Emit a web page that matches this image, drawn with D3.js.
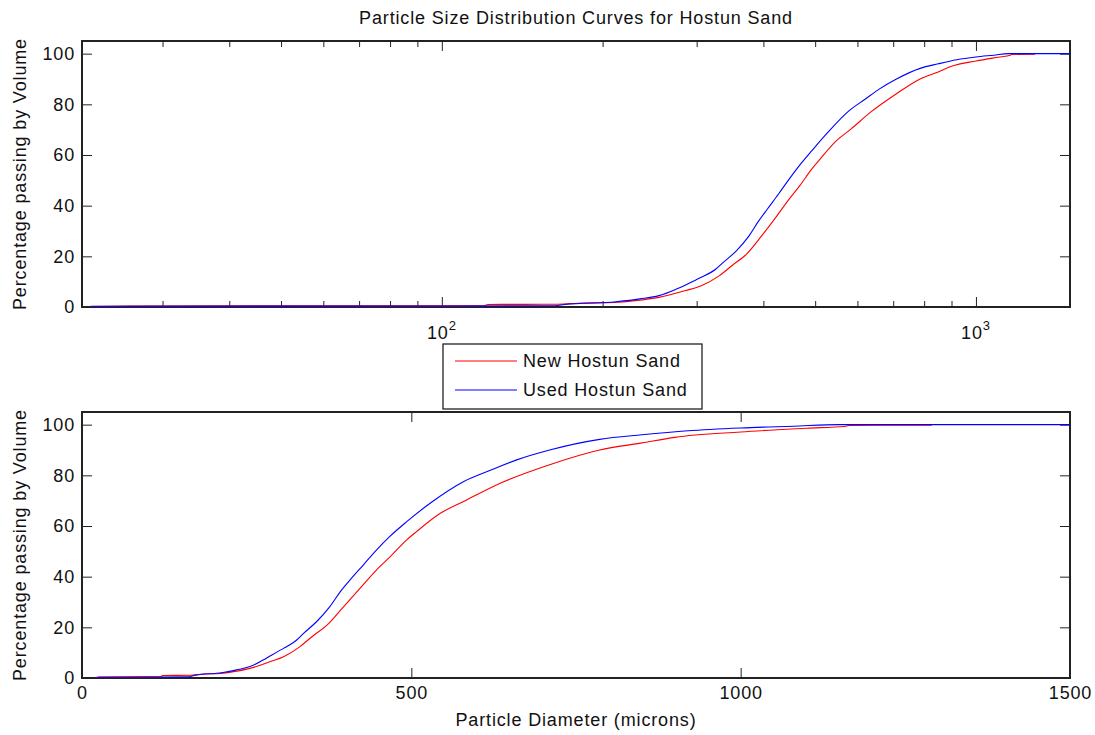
<!DOCTYPE html>
<html>
<head>
<meta charset="utf-8">
<script src="https://cdn.jsdelivr.net/npm/d3@7"></script>
<style>
  body { margin: 0; background: #fff; }
  text { font-family: "Liberation Sans", Arial, sans-serif; font-size: 18px; letter-spacing: 0.85px; fill: #111; }
  .tick line { stroke: #222; }
  .frame { fill: none; stroke: #222; stroke-width: 1.3; shape-rendering: crispEdges; }
</style>
</head>
<body>
<svg width="1095" height="735"></svg>
<script>
// particle diameter (microns) and percentage passing
var newD = [22, 26, 120, 122, 165, 180, 210, 230, 255, 286, 306, 331, 350, 372, 397, 422, 447, 468, 493, 508, 544, 584, 635, 710, 786, 850, 900, 1000, 1100, 1160, 1165, 1290];
var newP = [0.2, 0.4, 0.5, 1.0, 1.1, 1.5, 1.8, 2.5, 3.8, 6.5, 8.4, 12.4, 16.5, 20.9, 28.1, 35.4, 42.6, 47.9, 54.5, 57.8, 65, 70.3, 76.9, 84.2, 90, 92.8, 95, 97.1, 98.6, 99.4, 99.7, 99.8];

var usedD = [22, 100, 163, 170, 212, 235, 255, 275, 299, 306, 326, 336, 356, 376, 392, 407, 427, 447, 467, 493, 528, 579, 620, 660, 710, 786, 850, 920, 1000, 1080, 1150, 1500];
var usedP = [0.3, 0.4, 0.5, 1.0, 2.1, 3.2, 4.5, 7.1, 10.7, 11.7, 15, 17.5, 22.2, 28.1, 34, 38.7, 44.6, 50.5, 55.8, 61.7, 68.9, 77.5, 82, 86.1, 90, 94.2, 96.0, 97.6, 98.7, 99.4, 100, 100];

var yTicks = [0, 20, 40, 60, 80, 100];
var logTicks = [30, 40, 50, 60, 70, 80, 90, 100, 200, 300, 400, 500, 600, 700, 800, 900, 1000];
var logLabels = [[10, 2], [10, 3]];
var linTicks = [0, 500, 1000, 1500];

var seriesNames = ["New Hostun Sand", "Used Hostun Sand"];
var seriesColors = ["#ff0000", "#0000ff"];

var series = [
  newD.map(function(d, i) { return {d: d, p: newP[i]}; }),
  usedD.map(function(d, i) { return {d: d, p: usedP[i]}; })
];

var svg = d3.select("svg");
var left = 82, right = 1070;

var panels = [
  {top: 41, bottom: 307, x: d3.scaleLog().domain([21.2, 1500]).range([left, right]), log: true},
  {top: 412, bottom: 678, x: d3.scaleLinear().domain([0, 1500]).range([left, right]), log: false}
];

panels.forEach(function(pn, k) {
  var y = d3.scaleLinear().domain([0, 105]).range([pn.bottom, pn.top]);
  var g = svg.append("g");

  var clipId = "clip" + k;
  svg.append("clipPath").attr("id", clipId)
    .append("rect").attr("x", left).attr("y", pn.top).attr("width", right - left).attr("height", pn.bottom - pn.top);

  // y axes, ticks pointing in
  g.append("g").attr("transform", "translate(" + left + ",0)")
    .call(d3.axisLeft(y).tickValues(yTicks).tickSize(-10).tickPadding(7))
    .call(function(a) { a.select(".domain").remove(); a.selectAll("text").attr("font-size", null); });
  g.append("g").attr("transform", "translate(" + right + ",0)")
    .call(d3.axisRight(y).tickValues(yTicks).tickSize(-10).tickFormat(""))
    .call(function(a) { a.select(".domain").remove(); });

  // x axes
  var ticks = pn.log ? logTicks : linTicks;
  var bx = g.append("g").attr("transform", "translate(0," + pn.bottom + ")")
    .call(d3.axisBottom(pn.x).tickValues(ticks).tickSize(-10).tickPadding(8).tickFormat(pn.log ? "" : d3.format("d")))
    .call(function(a) { a.select(".domain").remove(); a.selectAll("text").attr("font-size", null); });
  var tx = g.append("g").attr("transform", "translate(0," + pn.top + ")")
    .call(d3.axisTop(pn.x).tickValues(ticks).tickSize(-10).tickFormat(""))
    .call(function(a) { a.select(".domain").remove(); });

  if (pn.log) {
    // minor decades get shorter ticks
    [bx, tx].forEach(function(a, j) {
      a.selectAll(".tick line").attr("y2", function(v) {
        var major = (v === 100 || v === 1000);
        return (j === 0 ? -1 : 1) * (major ? 10 : 6);
      });
    });
    logLabels.forEach(function(l) {
      var t = g.append("text")
        .attr("x", pn.x(Math.pow(l[0], l[1])))
        .attr("y", pn.bottom + 32)
        .attr("text-anchor", "middle");
      t.append("tspan").text(l[0]);
      t.append("tspan").attr("dy", -9).attr("font-size", 13).text(l[1]);
    });
  }

  g.append("rect").attr("class", "frame")
    .attr("x", left).attr("y", pn.top).attr("width", right - left).attr("height", pn.bottom - pn.top);

  var line = d3.line().curve(d3.curveMonotoneX)
    .x(function(d) { return pn.x(d.d); }).y(function(d) { return y(d.p); });
  series.forEach(function(s, i) {
    g.append("path").datum(s)
      .attr("clip-path", "url(#" + clipId + ")")
      .attr("fill", "none")
      .attr("stroke", seriesColors[i])
      .attr("stroke-width", 1.1)
      .attr("d", line);
  });

  g.append("text")
    .attr("transform", "translate(26," + ((pn.top + pn.bottom) / 2) + ") rotate(-90)")
    .attr("text-anchor", "middle")
    .text("Percentage passing by Volume");
});

svg.append("text").attr("x", (left + right) / 2).attr("y", 24)
  .attr("text-anchor", "middle")
  .text("Particle Size Distribution Curves for Hostun Sand");

svg.append("text").attr("x", (left + right) / 2).attr("y", 726)
  .attr("text-anchor", "middle")
  .text("Particle Diameter (microns)");

// legend
var lg = svg.append("g");
lg.append("rect").attr("x", 443).attr("y", 344).attr("width", 259).attr("height", 65)
  .attr("fill", "#fff").attr("stroke", "#222").attr("stroke-width", 1.3);
seriesNames.forEach(function(n, i) {
  var yy = 361 + i * 29;
  lg.append("line").attr("x1", 455).attr("x2", 517).attr("y1", yy).attr("y2", yy)
    .attr("stroke", seriesColors[i]).attr("stroke-width", 1.2);
  lg.append("text").attr("x", 523).attr("y", yy + 6).text(n);
});
</script>
</body>
</html>
